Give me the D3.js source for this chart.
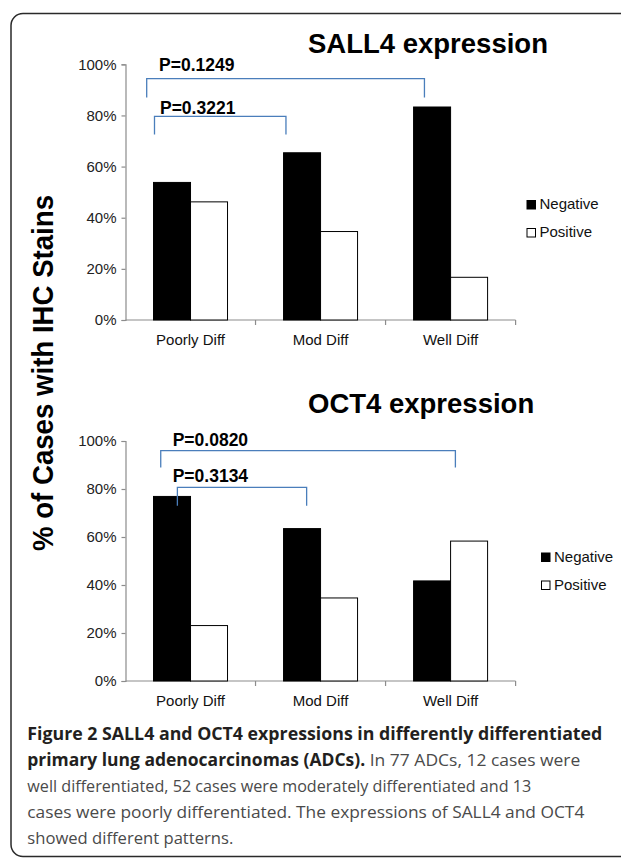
<!DOCTYPE html>
<html>
<head>
<meta charset="utf-8">
<script src="https://cdn.jsdelivr.net/npm/d3@7/dist/d3.min.js"></script>
<style>
  html, body { margin: 0; padding: 0; background: #fff; }
  svg { display: block; }
</style>
</head>
<body>
<script>
// ---------- data ----------
const categories = ["Poorly Diff", "Mod Diff", "Well Diff"];
const seriesNames = ["Negative", "Positive"];
const sall4Negative = [53.8, 65.4, 83.3];
const sall4Positive = [46.2, 34.6, 16.7];
const oct4Negative = [76.9, 63.5, 41.7];
const oct4Positive = [23.1, 34.6, 58.3];
const yTicks = [0, 20, 40, 60, 80, 100];
const sall4PLabels = ["P=0.1249", "P=0.3221"];
const oct4PLabels = ["P=0.0820", "P=0.3134"];
const chartTitles = ["SALL4 expression", "OCT4 expression"];
const yAxisTitle = "% of Cases with IHC Stains";
const captionLines = [
  [{t: "Figure 2 SALL4 and OCT4 expressions in differently differentiated", b: true}],
  [{t: "primary lung adenocarcinomas (ADCs).", b: true}, {t: " In 77 ADCs, 12 cases were", b: false}],
  [{t: "well differentiated, 52 cases were moderately differentiated and 13", b: false}],
  [{t: "cases were poorly differentiated. The expressions of SALL4 and OCT4", b: false}],
  [{t: "showed different patterns.", b: false}]
];

// ---------- layout ----------
const W = 621, H = 859;
const svg = d3.select("body").append("svg").attr("width", W).attr("height", H);

// frame
svg.append("rect").attr("x", 11).attr("y", 13.5).attr("width", 700).attr("height", 843)
  .attr("rx", 12).attr("fill", "none").attr("stroke", "#2a2a2a").attr("stroke-width", 1.5);

const x = d3.scaleBand().domain(categories).range([125.5, 515.6]).paddingInner(0).paddingOuter(0);
const xs = d3.scaleBand().domain(seriesNames).range([0, x.bandwidth()]).paddingInner(0).paddingOuter(0.757);
const fills = {Negative: "#000", Positive: "#fff"};
const FONT = "'Liberation Sans', Arial, Helvetica, sans-serif";
const bracketColor = "#4a7ebb";

const panels = [
  {
    title: chartTitles[0], titleY: 53.3, yRange: [320, 64.3],
    neg: sall4Negative, pos: sall4Positive,
    legendX: 527, legendY: [200.5, 228.5],
    brackets: [
      {from: ["Poorly Diff", 0.163], to: ["Well Diff", 0.299], y: 94.4, leg: 87.0, label: sall4PLabels[0], lx: 0.258, ly: 97.4},
      {from: ["Poorly Diff", 0.223], to: ["Mod Diff", 0.234], y: 79.6, leg: 72.5, label: sall4PLabels[1], lx: 0.265, ly: 80.6}
    ]
  },
  {
    title: chartTitles[1], titleY: 413.3, yRange: [681, 441],
    neg: oct4Negative, pos: oct4Positive,
    legendX: 541.5, legendY: [553, 581],
    brackets: [
      {from: ["Poorly Diff", 0.271], to: ["Well Diff", 0.537], y: 96.0, leg: 89.0, label: oct4PLabels[0], lx: 0.363, ly: 97.8},
      {from: ["Poorly Diff", 0.399], to: ["Mod Diff", 0.393], y: 80.7, leg: 73.0, label: oct4PLabels[1], lx: 0.363, ly: 83.1}
    ]
  }
];

panels.forEach(p => {
  const y = d3.scaleLinear().domain([0, 100]).range(p.yRange);
  const g = svg.append("g");

  // title
  g.append("text").attr("x", 308).attr("y", p.titleY).text(p.title)
    .attr("font-family", FONT).attr("font-weight", "bold").attr("font-size", 27.5)
    .attr("fill", "#000");

  // y axis
  const yAxis = d3.axisLeft(y).tickValues(yTicks).tickFormat(d => d + "%").tickSize(4).tickPadding(5);
  const ya = g.append("g").attr("transform", `translate(${x.range()[0]},0)`).call(yAxis);
  ya.select(".domain").attr("stroke", "#8c8c8c").attr("stroke-width", 1.2);
  ya.selectAll(".tick line").attr("stroke", "#8c8c8c").attr("stroke-width", 1.2);
  ya.selectAll(".tick text").attr("font-family", FONT).attr("font-size", 15).attr("fill", "#222");

  // x axis
  const y0 = y(0);
  const xa = g.append("g").attr("transform", `translate(0,${y0})`);
  xa.append("line").attr("x1", x.range()[0]).attr("x2", x.range()[1]).attr("y1", 0).attr("y2", 0)
    .attr("stroke", "#8c8c8c").attr("stroke-width", 1.2);
  const boundaries = categories.map(c => x(c) + x.bandwidth());
  xa.selectAll(".xt").data(boundaries).join("line").attr("class", "xt")
    .attr("x1", d => d).attr("x2", d => d).attr("y1", 0).attr("y2", 5)
    .attr("stroke", "#8c8c8c").attr("stroke-width", 1.2);
  xa.selectAll(".xl").data(categories).join("text").attr("class", "xl")
    .attr("x", d => x(d) + x.bandwidth() / 2).attr("y", 24.5)
    .attr("text-anchor", "middle").attr("font-family", FONT).attr("font-size", 15).attr("fill", "#111")
    .text(d => d);

  // bars
  const rows = categories.map((c, i) => ({cat: c, Negative: p.neg[i], Positive: p.pos[i]}));
  const groups = g.selectAll(".grp").data(rows).join("g").attr("class", "grp")
    .attr("transform", d => `translate(${x(d.cat)},0)`);
  groups.selectAll("rect").data(d => seriesNames.map(s => ({s, v: d[s]}))).join("rect")
    .attr("x", d => xs(d.s)).attr("width", xs.bandwidth())
    .attr("y", d => y(d.v)).attr("height", d => y0 - y(d.v))
    .attr("fill", d => fills[d.s]).attr("stroke", "#000").attr("stroke-width", 1);

  // brackets
  p.brackets.forEach(b => {
    const x1 = x(b.from[0]) + b.from[1] * x.bandwidth();
    const x2 = x(b.to[0]) + b.to[1] * x.bandwidth();
    const path = d3.path();
    path.moveTo(x1, y(b.leg)); path.lineTo(x1, y(b.y)); path.lineTo(x2, y(b.y)); path.lineTo(x2, y(b.leg));
    g.append("path").attr("d", path.toString()).attr("fill", "none")
      .attr("stroke", bracketColor).attr("stroke-width", 1.3);
    g.append("text").attr("x", x("Poorly Diff") + b.lx * x.bandwidth()).attr("y", y(b.ly))
      .attr("font-family", FONT).attr("font-weight", "bold").attr("font-size", 17.5)
      .attr("fill", "#000").text(b.label);
  });

  // legend
  seriesNames.forEach((s, i) => {
    g.append("rect").attr("x", p.legendX).attr("y", p.legendY[i]).attr("width", 8.5).attr("height", 8.5)
      .attr("fill", fills[s]).attr("stroke", "#000").attr("stroke-width", 1);
    g.append("text").attr("x", p.legendX + 12.5).attr("y", p.legendY[i] + 8.8)
      .attr("font-family", FONT).attr("font-size", 15).attr("fill", "#111").text(s);
  });
});

// y-axis title
svg.append("text").attr("transform", "translate(53,373) rotate(-90)")
  .attr("text-anchor", "middle").attr("font-family", FONT).attr("font-weight", "bold")
  .attr("font-size", 30).attr("textLength", 356).attr("lengthAdjust", "spacingAndGlyphs")
  .attr("fill", "#000").text(yAxisTitle);

// caption
const capBase = [739.7, 765.7, 791.7, 817.7, 843.7];
const capLen = [575, 553, 504, 557, 206];
captionLines.forEach((line, i) => {
  const t = svg.append("text").attr("x", 27.3).attr("y", capBase[i])
    .attr("font-family", "'Open Sans', 'Noto Sans', sans-serif").attr("font-size", 17)
    .attr("textLength", capLen[i]).attr("lengthAdjust", "spacingAndGlyphs");
  line.forEach(seg => {
    t.append("tspan").attr("font-weight", seg.b ? "bold" : "normal")
      .attr("fill", seg.b ? "#231f20" : "#4a4a4a").text(seg.t);
  });
});
</script>
</body>
</html>
